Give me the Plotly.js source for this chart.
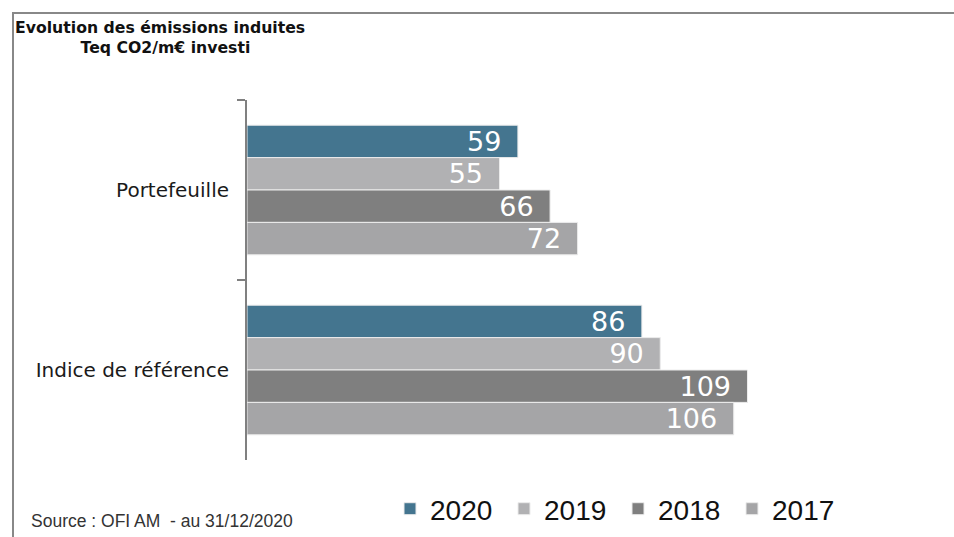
<!DOCTYPE html>
<html><head><meta charset="utf-8">
<script src="https://cdn.plot.ly/plotly-3.0.1.min.js"></script>
<style>html,body{margin:0;padding:0;background:#fff;}#chart{width:954px;height:537px;}</style>
</head><body><div id="chart"></div>
<script>
const categories = ["Portefeuille", "Indice de référence"];
const years = ["2020", "2019", "2018", "2017"];
const values2020 = [59, 86];
const values2019 = [55, 90];
const values2018 = [66, 109];
const values2017 = [72, 106];
const seriesValues = [values2020, values2019, values2018, values2017];
const colors = ["#44758F", "#B1B1B3", "#7F7F7F", "#A5A5A7"];

const traces = years.map((yr, i) => ({
  type: "bar",
  orientation: "h",
  name: yr,
  y: categories,
  x: seriesValues[i],
  marker: {color: colors[i], line: {color: "#ECECEC", width: 1}},
  text: seriesValues[i].map(String),
  texttemplate: "%{text}\u2002",
  textposition: "inside",
  insidetextanchor: "end",
  constraintext: "none",
  textfont: {color: "#FFFFFF", size: 27, family: "DejaVu Sans, sans-serif"},
  hoverinfo: "skip"
}));

const L = 247, R = 798, T = 100, B = 460, W = 954, H = 537;
const px = v => (v - L) / (R - L);
const py = v => (B - v) / (B - T);
const indent = "\u00a0".repeat(12);

const layout = {
  width: W, height: H,
  margin: {l: L, r: W - R, t: T, b: H - B, pad: 0},
  paper_bgcolor: "#FFFFFF", plot_bgcolor: "#FFFFFF",
  barmode: "group", bargap: 0.28, bargroupgap: 0,
  showlegend: true,
  font: {family: "Liberation Sans, Arial, sans-serif", color: "#222"},
  xaxis: {range: [0, 120], visible: false, fixedrange: true},
  yaxis: {
    type: "category", autorange: false, range: [1.5, -0.5],
    showline: true, linecolor: "#808080", linewidth: 2,
    ticks: "outside", tickson: "boundaries", ticklen: 8, tickwidth: 2, tickcolor: "#808080",
    showgrid: false, zeroline: false,
    tickfont: {size: 20, color: "#1a1a1a", family: "DejaVu Sans, sans-serif"},
    ticklabelstandoff: 12
  },
  legend: {
    orientation: "h", xref: "container", yref: "container",
    x: 390 / W, y: 1 - 509 / H, xanchor: "left", yanchor: "middle",
    entrywidth: 69, entrywidthmode: "pixels",
    font: {size: 28, color: "#111", family: "Liberation Sans, Arial, sans-serif"},
    itemclick: false, itemdoubleclick: false, bgcolor: "rgba(0,0,0,0)"
  },
  shapes: [
    {type: "line", xref: "paper", yref: "paper", x0: px(12), x1: px(960), y0: py(13), y1: py(13), line: {color: "#888888", width: 2}},
    {type: "line", xref: "paper", yref: "paper", x0: px(13), x1: px(13), y0: py(12), y1: py(540), line: {color: "#888888", width: 2}}
  ],
  annotations: [
    {xref: "paper", yref: "paper", x: px(13), y: py(38), xanchor: "left", yanchor: "middle", align: "left", showarrow: false,
     text: "<b>Evolution des émissions induites</b><br><b>" + indent + "Teq CO2/m€ investi</b>",
     font: {size: 15.7, color: "#111", family: "DejaVu Sans, sans-serif"}},
    {xref: "paper", yref: "paper", x: px(29), y: py(521), xanchor: "left", yanchor: "middle", showarrow: false,
     text: "Source : OFI AM  - au 31/12/2020", font: {size: 17.5, color: "#333", family: "Liberation Sans, Arial, sans-serif"}}
  ]
};

Plotly.newPlot("chart", traces, layout, {displayModeBar: false, staticPlot: true});
</script></body></html>
